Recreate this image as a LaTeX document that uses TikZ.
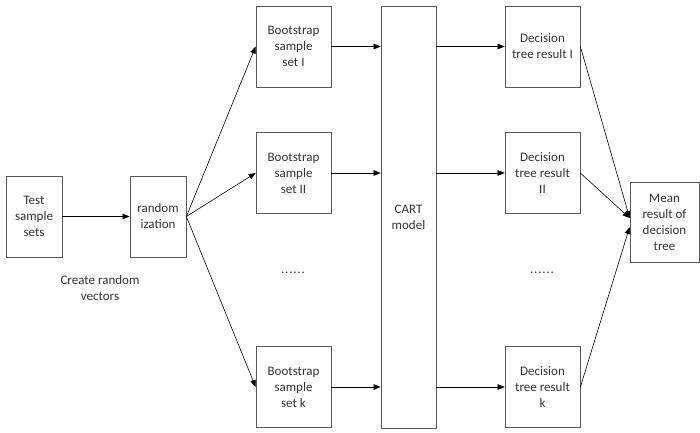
\documentclass[tikz,border=0pt]{standalone}
\usepackage{fontspec}
\setmainfont{Carlito}
\usetikzlibrary{positioning}
\usetikzlibrary{arrows.meta}

\tikzset{
  box/.style={draw=black!65, line width=0.7pt, fill=white, align=center,
    text=black!80, inner sep=2pt, minimum width=75pt, minimum height=81pt,
    font=\fontsize{13}{16}\selectfont},
  link/.style={-{Triangle[length=7pt,width=5.5pt]}, line width=0.6pt},
  dots/.style={text=black!80, font=\fontsize{13}{16}\selectfont},
}
\newcommand{\sixdots}{.\kern0.8pt.\kern0.8pt.\kern0.8pt.\kern0.8pt.\kern0.8pt.}

\begin{document}
\begin{tikzpicture}[x=1pt,y=-1pt]
\useasboundingbox (0,0) rectangle (700,432);
% input side
\node[box,minimum width=56pt] (test) at (34,216.5) {Test\\sample\\sets};
\node[box,minimum width=56pt] (rand) at (158,216.5) {random\\ization};
\node[dots,align=center] (vec) at (100,288) {Create random\\vectors};
% bootstrap sets
\node[box] (boot1) at (293.5,46.5) {Bootstrap\\sample\\set I};
\node[box] (boot2) at (293.5,173) {Bootstrap\\sample\\set II};
\node[box] (bootk) at (293.5,387) {Bootstrap\\sample\\set k};
\node[dots] (dots1) at (293,273) {\sixdots};
% the model
\node[box,minimum width=55pt,minimum height=422pt] (cart) at (408.5,217) {CART\\model};
% tree results
\node[box] (dec1) at (542.5,46.5) {Decision\\tree result I};
\node[box] (dec2) at (542.5,173) {Decision\\tree result\\II};
\node[box] (deck) at (542.5,387) {Decision\\tree result\\k};
\node[dots] (dots2) at (542,273) {\sixdots};
\node[box,minimum width=69pt,minimum height=80pt] (mean) at (664.5,222) {Mean\\result of\\decision\\tree};

\draw[link] (test) -- (rand);
\foreach \b in {boot1,boot2,bootk}
  \draw[link] (rand.east) -- (\b.west);
\foreach \b/\d in {boot1/dec1,boot2/dec2,bootk/deck} {
  \draw[link] (\b) -- (\b -| cart.west);
  \draw[link] (\b -| cart.east) -- (\d);
}
\draw[link] (dec1.east) -- ([yshift=4pt]mean.west);
\draw[link] (dec2.east) -- ([yshift=4pt]mean.west);
\draw[link] (deck.east) -- ([yshift=-5pt]mean.west);
\end{tikzpicture}
\end{document}
